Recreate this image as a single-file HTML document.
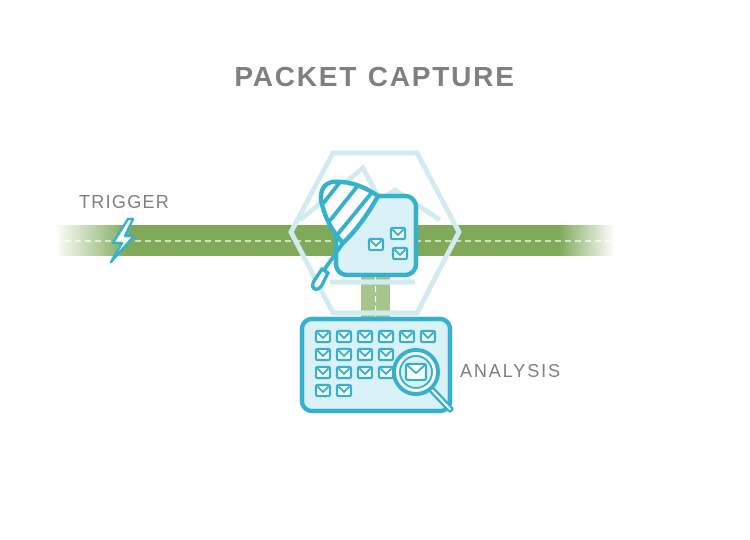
<!DOCTYPE html>
<html><head><style>
html,body{margin:0;padding:0;background:#fff;width:750px;height:540px;overflow:hidden}
text{font-family:"Liberation Sans",sans-serif;fill:#808080}
</style></head><body>
<svg width="750" height="540" viewBox="0 0 750 540" xmlns="http://www.w3.org/2000/svg">
<defs>
<linearGradient id="g" x1="55" x2="615" gradientUnits="userSpaceOnUse">
<stop offset="0" stop-color="#80a95a" stop-opacity="0"/>
<stop offset="0.13" stop-color="#80a95a" stop-opacity="1"/>
<stop offset="0.9" stop-color="#80a95a" stop-opacity="1"/>
<stop offset="1" stop-color="#80a95a" stop-opacity="0"/>
</linearGradient>
<clipPath id="nc"><path d="M343 243 Q326 225 321 200 Q320 185 332 182 Q355 180 378 196 Q362 225 343 243 Z"/></clipPath>
<g id="e"><rect x="0" y="0" width="14" height="11" rx="1.5" fill="#fff" stroke="#35b1cb" stroke-width="2.2"/><path d="M1.5 1.5 L7 7 L12.5 1.5" fill="none" stroke="#35b1cb" stroke-width="2"/></g>
</defs>
<text x="375" y="86" text-anchor="middle" font-size="28" font-weight="bold" letter-spacing="1.8">PACKET CAPTURE</text>
<text x="79" y="208" font-size="18" letter-spacing="1.3">TRIGGER</text>
<text x="460" y="377" font-size="18" letter-spacing="1.9">ANALYSIS</text>
<rect x="55" y="225" width="560" height="31" fill="url(#g)"/>
<line x1="55" y1="241" x2="615" y2="241" stroke="#fff" stroke-width="1.2" stroke-dasharray="6 4"/>
<rect x="361" y="256" width="29" height="62" fill="#a5c58a"/>
<line x1="375.5" y1="256" x2="375.5" y2="318" stroke="#fff" stroke-width="1.2" stroke-dasharray="6 4"/>
<g fill="none" stroke="#d2ebf1" stroke-width="5">
<polygon points="333,153 417,153 459,232 417,313 333,313 291,232"/>
<path d="M300 220 L363 168 L380 200 L395 190 L440 220"/>
<line x1="330" y1="282" x2="415" y2="282"/>
</g>
<path d="M128 219 L113 243 L122 243 L111 262 L134 236 L125 236 L133 219 Z" fill="#fff" stroke="#35b1cb" stroke-width="2.5" stroke-linejoin="round"/>
<rect x="336" y="196" width="80" height="79" rx="11" fill="#d9f1f7" stroke="#35b1cb" stroke-width="4.5"/>
<use href="#e" x="391" y="228"/>
<use href="#e" x="369" y="239"/>
<use href="#e" x="393" y="248"/>
<path d="M343 243 Q326 225 321 200 Q320 185 332 182 Q355 180 378 196 Q362 225 343 243 Z" fill="#fff"/>
<g clip-path="url(#nc)" stroke="#35b1cb" stroke-width="4">
<line x1="318" y1="210" x2="348" y2="172"/>
<line x1="324" y1="228" x2="364" y2="178"/>
<line x1="333" y1="240" x2="378" y2="185"/>
<line x1="345" y1="248" x2="390" y2="193"/>
</g>
<path d="M343 243 Q326 225 321 200 Q320 185 332 182 Q355 180 378 196 Q362 225 343 243 Z" fill="none" stroke="#35b1cb" stroke-width="4.5" stroke-linejoin="round"/>
<line x1="343" y1="243" x2="324" y2="270" stroke="#35b1cb" stroke-width="4"/>
<path d="M322 269 L314 281 Q311 287 315 289 Q319 290 322 285 L328 273 Z" fill="#fff" stroke="#35b1cb" stroke-width="3.5" stroke-linejoin="round"/>
<rect x="302" y="319" width="148" height="92" rx="10" fill="#d9f1f7" stroke="#35b1cb" stroke-width="4.5"/>
<g>
<use href="#e" x="316" y="331"/><use href="#e" x="337" y="331"/><use href="#e" x="358" y="331"/><use href="#e" x="379" y="331"/><use href="#e" x="400" y="331"/><use href="#e" x="421" y="331"/>
<use href="#e" x="316" y="349"/><use href="#e" x="337" y="349"/><use href="#e" x="358" y="349"/><use href="#e" x="379" y="349"/>
<use href="#e" x="316" y="367"/><use href="#e" x="337" y="367"/><use href="#e" x="358" y="367"/><use href="#e" x="379" y="367"/>
<use href="#e" x="316" y="385"/><use href="#e" x="337" y="385"/>
</g>
<line x1="432" y1="390" x2="450" y2="409" stroke="#35b1cb" stroke-width="7" stroke-linecap="round"/>
<line x1="432" y1="390" x2="450" y2="409" stroke="#fff" stroke-width="2" stroke-linecap="round"/>
<circle cx="416" cy="372" r="22" fill="#fff" stroke="#35b1cb" stroke-width="4"/>
<circle cx="416" cy="372" r="16" fill="#d9f1f7" stroke="#35b1cb" stroke-width="2"/>
<rect x="406" y="364" width="20" height="16" rx="2" fill="#fff" stroke="#35b1cb" stroke-width="2.2"/>
<path d="M407 365 L416 373 L425 365" fill="none" stroke="#35b1cb" stroke-width="2"/>
</svg>
</body></html>
